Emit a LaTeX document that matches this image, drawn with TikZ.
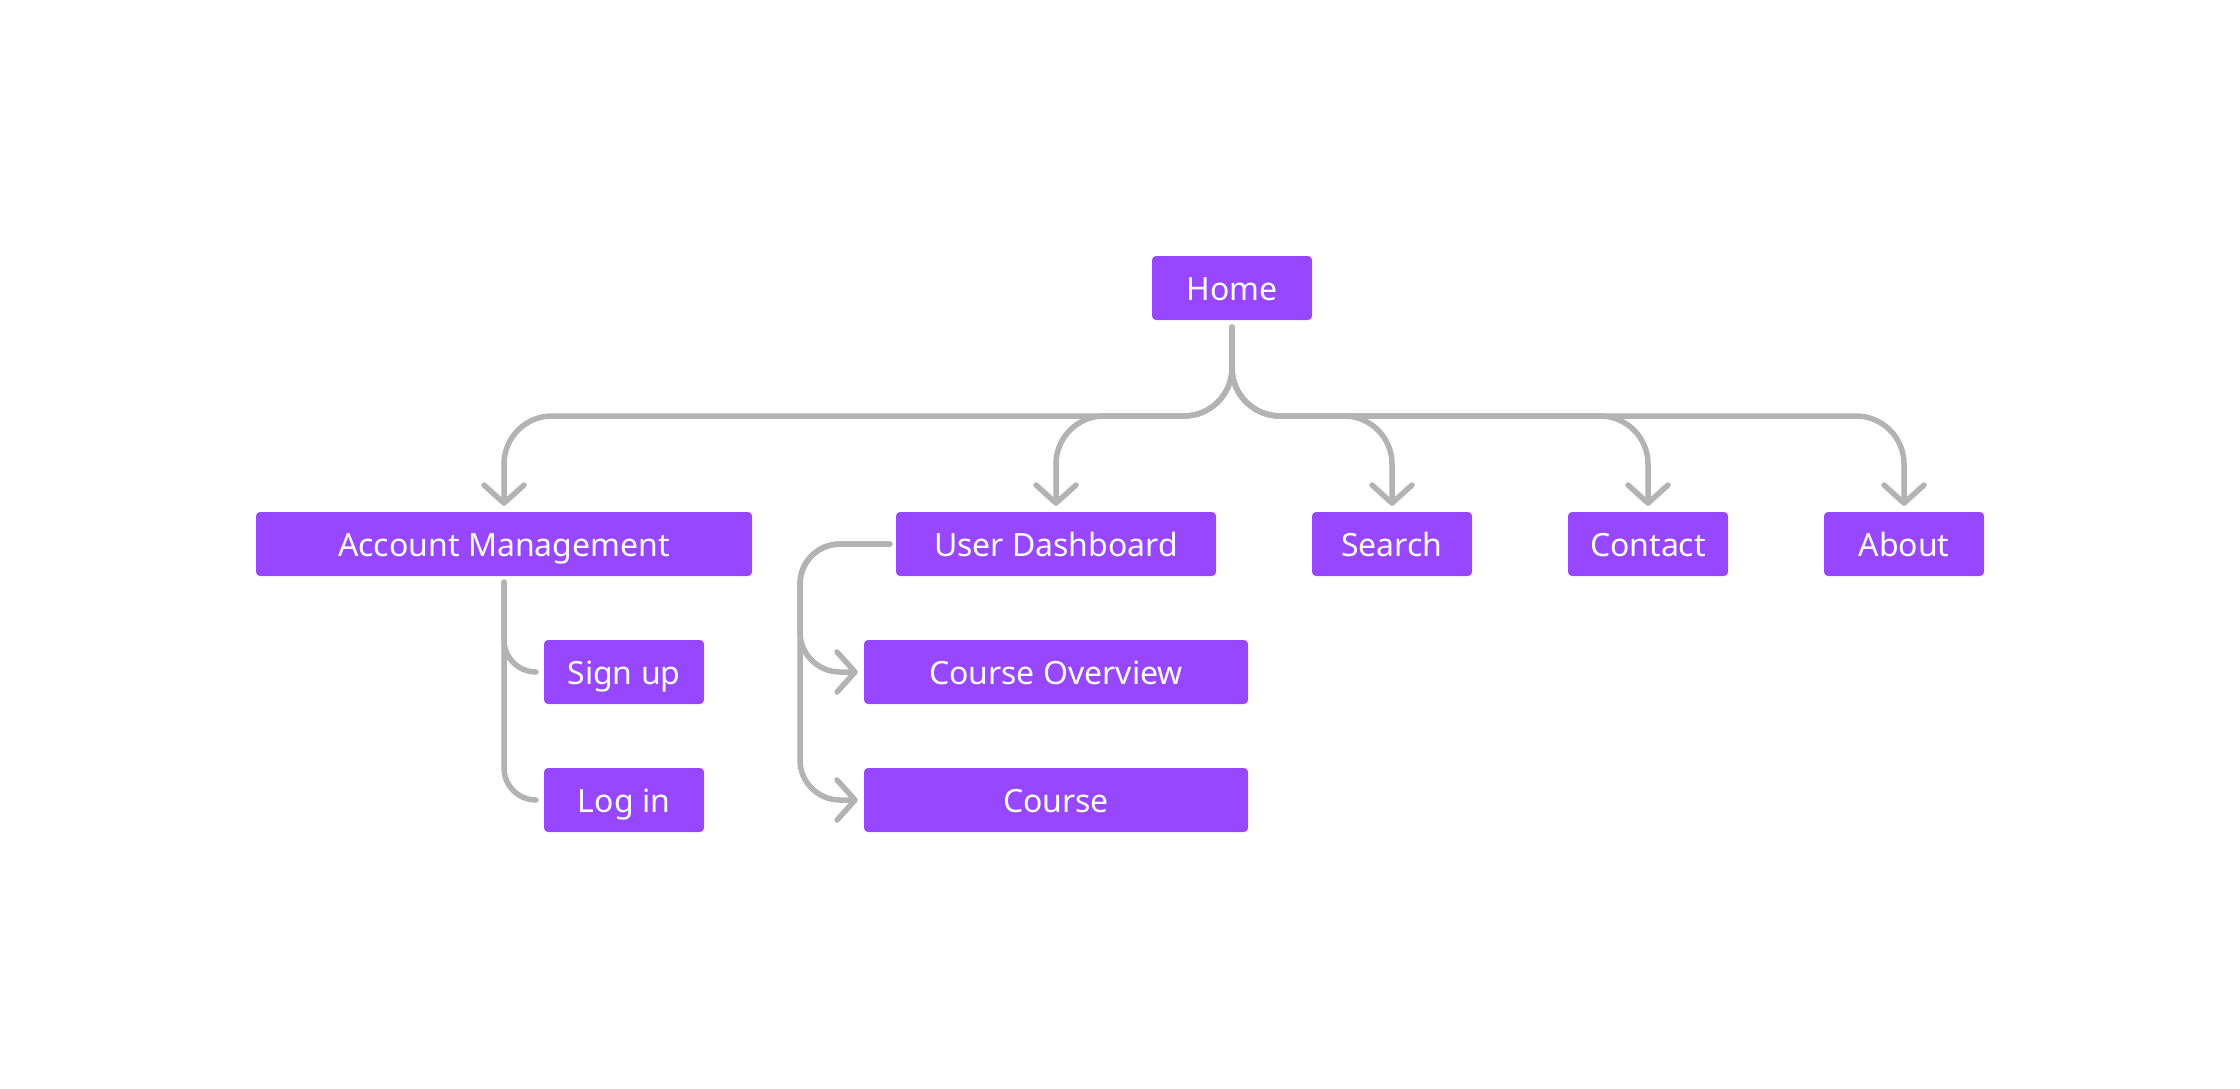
\documentclass[tikz,border=0pt]{standalone}
\usepackage{fontspec}
\setmainfont{Noto Sans}
\usetikzlibrary{arrows.meta}
\definecolor{boxpurple}{HTML}{9747FF}
\definecolor{linegray}{HTML}{B3B3B3}
\begin{document}
\begin{tikzpicture}[x=1pt,y=-1pt,
  pagebox/.style={fill=boxpurple, draw=none, rounded corners=4pt, inner sep=0pt,
    minimum height=64pt, text height=24pt, text depth=0pt, text=white,
    font=\fontsize{32}{38}\selectfont},
  w160/.style={pagebox, minimum width=160pt},
  link/.style={draw=linegray, line width=5.5pt, line cap=round, line join=round},
  arrowlink/.style={link, -{Straight Barb[length=18pt,width=40pt,round]}}
]
\useasboundingbox (0,0) rectangle (2240,1088);
% nodes
\node[w160] (home) at (1232,288) {Home};
\node[pagebox, minimum width=496pt] (am) at (504,544) {Account Management};
\node[pagebox, minimum width=320pt] (ud) at (1056,544) {User Dashboard};
\node[w160] (search) at (1392,544) {Search};
\node[w160] (contact) at (1648,544) {Contact};
\node[w160] (about) at (1904,544) {About};
\node[w160] (signup) at (624,672) {Sign up};
\node[w160] (login) at (624,800) {Log in};
\node[pagebox, minimum width=384pt] (co) at (1056,672) {Course Overview};
\node[pagebox, minimum width=384pt] (course) at (1056,800) {Course};
% helper coordinates
\coordinate (bus) at (1232,416);
\coordinate (rail) at (800,544);
% top-level connectors
\foreach \t in {am,ud,search,contact,about}{
  \draw[arrowlink, rounded corners=48pt, shorten <=7pt, shorten >=6pt]
    (home.south) -- (home.south |- bus) -- (\t.north |- bus) -- (\t.north);
}
% account management children
\foreach \t in {signup,login}{
  \draw[link, rounded corners=32pt, shorten <=6pt, shorten >=8pt]
    (am.south) -- (am.south |- \t.west) -- (\t.west);
}
% user dashboard children
\foreach \t in {co,course}{
  \draw[arrowlink, rounded corners=40pt, shorten <=6pt, shorten >=6pt]
    (ud.west) -- (rail) -- (rail |- \t.west) -- (\t.west);
}
\end{tikzpicture}
\end{document}
